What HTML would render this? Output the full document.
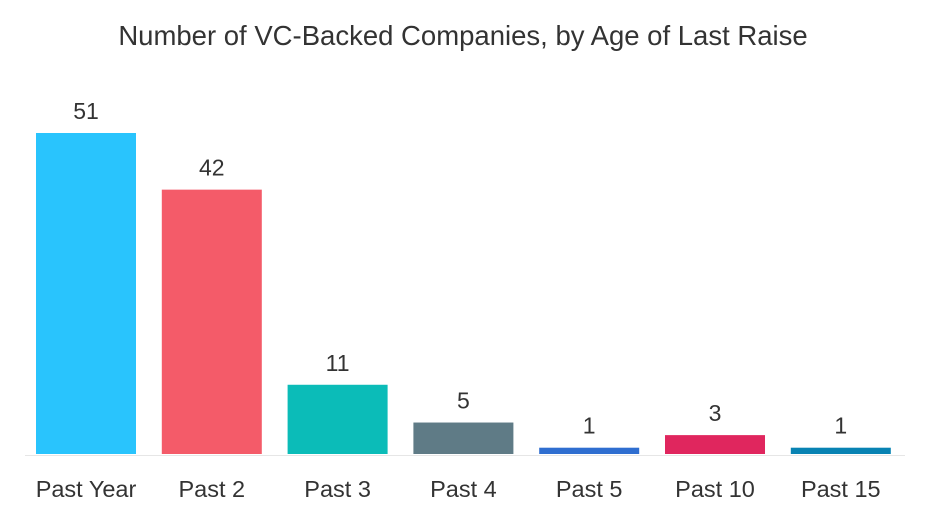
<!DOCTYPE html>
<html><head><meta charset="utf-8"><style>
body{margin:0;background:#fff;}
svg text{font-family:"Liberation Sans",sans-serif;fill:#333;}
</style></head><body>
<svg width="926" height="515" xmlns="http://www.w3.org/2000/svg" id="c">
<text x="463" y="45" text-anchor="middle" font-size="27.5">Number of VC-Backed Companies, by Age of Last Raise</text>
<line x1="25" x2="905" y1="455.5" y2="455.5" stroke="#e6e6e6" stroke-width="1"/>
</svg>
<script>
const categories=["Past Year","Past 2","Past 3","Past 4","Past 5","Past 10","Past 15"];
const values=[51,42,11,5,1,3,1];
const colors=["#29c4fd","#f45b69","#0bbcb8","#5f7b86","#2f6ed0","#e0265e","#0883b3"];
const svg=document.getElementById('c');
const ns="http://www.w3.org/2000/svg";
const base=454, pxPer=321/51;
const y=v=>base-v*pxPer;
const x=i=>36+i*125.8;
categories.forEach((c,i)=>{
 const r=document.createElementNS(ns,'rect');
 
 
 r.setAttribute('x',x(i));r.setAttribute('width',100);
 r.setAttribute('y',y(values[i]));r.setAttribute('height',base-y(values[i]));
 r.setAttribute('fill',colors[i]);svg.appendChild(r);
 const t=document.createElementNS(ns,'text');
 
 
 t.setAttribute('x',x(i)+50);t.setAttribute('y',y(values[i])-14);
 t.setAttribute('text-anchor','middle');t.setAttribute('font-size','23');
 t.textContent=values[i];svg.appendChild(t);
 const l=document.createElementNS(ns,'text');
 
 
 l.setAttribute('x',x(i)+50);l.setAttribute('y',497);
 l.setAttribute('text-anchor','middle');l.setAttribute('font-size','23.5');
 l.textContent=c;svg.appendChild(l);
});
</script>
</body></html>
